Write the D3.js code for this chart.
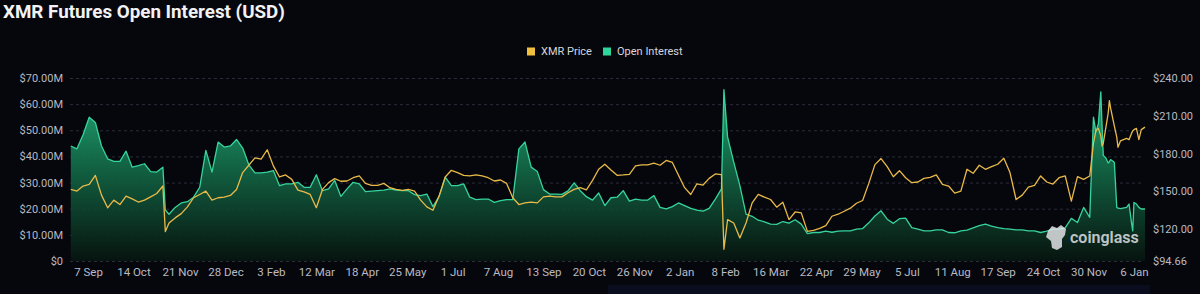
<!DOCTYPE html>
<html>
<head>
<meta charset="utf-8">
<script src="https://cdn.jsdelivr.net/npm/d3@7"></script>
<style>
  html, body { margin: 0; padding: 0; background: #06070d; }
  svg { display: block; }
</style>
</head>
<body>
<svg id="chart" width="1200" height="294"></svg>
<script>
//Chart data (open interest in millions USD, price in USD)
var dates = [
  "2022-08-24","2022-08-29","2022-09-03","2022-09-08","2022-09-13","2022-09-18","2022-09-23","2022-09-28",
  "2022-10-03","2022-10-08","2022-10-13","2022-10-18","2022-10-23","2022-10-28","2022-11-02","2022-11-07",
  "2022-11-09","2022-11-12","2022-11-17","2022-11-22","2022-11-27","2022-12-02","2022-12-07","2022-12-12",
  "2022-12-17","2022-12-22","2022-12-27","2023-01-01","2023-01-06","2023-01-11","2023-01-16","2023-01-21",
  "2023-01-26","2023-01-31","2023-02-05","2023-02-10","2023-02-15","2023-02-20","2023-02-25","2023-03-02",
  "2023-03-07","2023-03-12","2023-03-17","2023-03-22","2023-03-27","2023-04-01","2023-04-06","2023-04-11",
  "2023-04-16","2023-04-21","2023-04-26","2023-05-01","2023-05-06","2023-05-11","2023-05-16","2023-05-21",
  "2023-05-26","2023-05-31","2023-06-05","2023-06-10","2023-06-15","2023-06-20","2023-06-25","2023-06-30",
  "2023-07-05","2023-07-10","2023-07-15","2023-07-20","2023-07-25","2023-07-30","2023-08-04","2023-08-09",
  "2023-08-14","2023-08-19","2023-08-24","2023-08-29","2023-09-03","2023-09-08","2023-09-13","2023-09-18",
  "2023-09-23","2023-09-28","2023-10-03","2023-10-08","2023-10-13","2023-10-18","2023-10-23","2023-10-28",
  "2023-11-02","2023-11-07","2023-11-12","2023-11-17","2023-11-22","2023-11-27","2023-12-02","2023-12-07",
  "2023-12-12","2023-12-17","2023-12-22","2023-12-27","2024-01-01","2024-01-06","2024-01-11","2024-01-16",
  "2024-01-21","2024-01-26","2024-01-31","2024-02-05","2024-02-07","2024-02-10","2024-02-15","2024-02-20",
  "2024-02-25","2024-03-01","2024-03-06","2024-03-11","2024-03-16","2024-03-21","2024-03-26","2024-03-31",
  "2024-04-05","2024-04-10","2024-04-15","2024-04-20","2024-04-25","2024-04-30","2024-05-05","2024-05-10",
  "2024-05-15","2024-05-20","2024-05-25","2024-05-30","2024-06-04","2024-06-09","2024-06-14","2024-06-19",
  "2024-06-24","2024-06-29","2024-07-04","2024-07-09","2024-07-14","2024-07-19","2024-07-24","2024-07-29",
  "2024-08-03","2024-08-08","2024-08-13","2024-08-18","2024-08-23","2024-08-28","2024-09-02","2024-09-07",
  "2024-09-12","2024-09-17","2024-09-22","2024-09-27","2024-10-02","2024-10-07","2024-10-12","2024-10-17",
  "2024-10-22","2024-10-27","2024-11-01","2024-11-06","2024-11-11","2024-11-16","2024-11-21","2024-11-26",
  "2024-12-01","2024-12-04","2024-12-06","2024-12-08","2024-12-10","2024-12-11","2024-12-12","2024-12-14",
  "2024-12-16","2024-12-17","2024-12-18","2024-12-21","2024-12-23","2024-12-24","2024-12-26","2024-12-31",
  "2025-01-02","2025-01-04","2025-01-05","2025-01-06","2025-01-08","2025-01-10","2025-01-12","2025-01-15"
];

var openInterest = [
  44.0,42.9,48.3,55.0,53.0,44.0,39.1,38.1,
  38.1,42.0,35.9,36.5,37.2,34.2,34.0,35.9,
  19.5,17.9,20.5,22.2,22.7,24.4,28.2,42.3,
  34.0,45.5,43.6,44.0,46.5,43.2,36.8,33.7,
  33.7,34.0,34.6,28.8,29.5,29.5,30.1,28.2,
  28.2,33.0,26.9,27.6,30.8,24.7,27.6,30.1,
  29.5,26.5,26.7,26.9,27.1,27.6,27.1,26.9,
  26.9,25.4,25.0,25.6,20.8,24.7,32.1,28.8,
  28.8,29.5,24.4,23.5,23.7,23.7,22.4,23.1,
  23.5,23.5,42.9,45.5,35.9,34.2,27.3,25.6,
  25.6,25.5,26.8,29.9,26.9,24.6,23.3,26.0,
  21.2,24.2,24.4,26.9,22.9,23.7,23.3,23.3,
  25.0,20.5,19.9,20.8,22.2,21.2,20.1,19.5,
  19.1,20.1,23.7,27.6,65.5,47.4,37.8,28.8,
  17.9,17.1,15.6,15.0,14.1,14.0,15.1,14.5,
  15.8,14.1,10.5,10.9,10.9,11.4,11.0,11.4,
  11.5,11.5,12.2,12.4,14.6,17.2,19.2,16.0,
  14.4,16.2,16.4,12.8,12.2,11.5,11.5,11.9,
  11.9,10.9,10.8,11.5,11.8,12.7,13.5,14.1,
  13.3,12.8,12.4,12.2,11.9,11.9,11.5,11.5,
  10.9,11.4,12.2,12.2,12.7,16.3,14.7,20.5,
  16.7,55.0,49.4,52.5,64.7,52.0,40.4,39.5,
  37.5,38.0,38.8,37.8,20.5,20.2,20.0,20.5,
  21.8,14.7,11.5,22.4,21.8,20.5,19.9,19.9
];

var xmrPrice = [
  151.5,150.2,154.2,155.5,162.7,147.0,136.9,143.0,
  139.5,146.2,144.0,141.5,143.0,145.6,148.3,154.2,
  118.0,124.8,128.9,132.3,137.6,144.9,147.5,150.2,
  143.0,144.9,145.4,146.7,151.5,164.9,170.7,176.5,
  175.5,183.0,170.2,161.4,163.0,159.5,151.0,149.6,
  147.5,137.0,151.5,156.9,160.1,158.0,158.2,160.8,
  162.2,156.3,154.7,154.7,156.3,152.9,151.5,150.7,
  151.5,150.2,143.0,137.6,135.0,146.2,161.4,166.7,
  164.9,162.7,162.2,163.0,162.2,160.8,158.2,159.0,
  156.3,144.9,139.5,140.8,141.5,140.8,145.6,146.2,
  145.6,145.6,148.9,151.5,152.9,151.2,158.7,167.5,
  171.5,167.0,162.7,163.0,163.5,170.2,171.0,171.0,
  172.3,170.7,174.5,172.9,162.7,152.9,147.5,156.0,
  155.0,160.3,163.8,163.3,104.0,127.5,124.8,113.0,
  124.8,140.8,147.5,145.4,143.5,137.4,141.3,127.5,
  133.6,132.9,118.2,119.0,120.6,122.7,130.2,131.8,
  134.2,136.6,140.5,142.7,156.3,171.2,176.0,169.6,
  161.6,166.4,160.8,156.9,157.4,160.3,161.1,163.0,
  155.5,154.2,148.6,150.2,167.5,164.3,170.7,167.5,
  169.6,171.5,176.3,164.9,143.5,147.0,153.4,154.7,
  162.2,157.4,155.8,160.8,162.2,142.2,161.6,159.5,
  162.2,188.0,198.2,200.0,194.0,186.0,188.0,200.0,
  212.0,222.0,216.0,202.0,193.0,185.0,190.0,192.0,
  191.0,196.0,198.0,199.0,200.0,191.0,199.0,201.0
];

var xTicks = [
  "2022-09-07","2022-10-14","2022-11-21","2022-12-28","2023-02-03","2023-03-12",
  "2023-04-18","2023-05-25","2023-07-01","2023-08-07","2023-09-13","2023-10-20",
  "2023-11-26","2024-01-02","2024-02-08","2024-03-16","2024-04-22","2024-05-29",
  "2024-07-05","2024-08-11","2024-09-17","2024-10-24","2024-11-30","2025-01-06"
];
var leftTicks = [0, 10, 20, 30, 40, 50, 60, 70];
var rightTicks = [94.66, 120, 150, 180, 210, 240];

var parseDate = d3.timeParse("%Y-%m-%d");

//Build rows from the arrays
var data = dates.map(function(d, i){
    return { date: parseDate(d), oi: openInterest[i], price: xmrPrice[i] };
});

var svg = d3.select("#chart");
//plot box (note: "top" is taken by window, so use other names)
var plotLeft = 70.8, plotRight = 1145, plotTop = 78, plotBottom = 261;

svg.append("rect")
    .attr("width", 1200).attr("height", 294)
    .attr("fill", "#06070d");

//faint band at the bottom
svg.append("rect")
    .attr("x", 608).attr("y", 285)
    .attr("width", 542).attr("height", 9)
    .attr("fill", "#0a0d1e");

//Scales
var xScale = d3.scaleTime()
    .domain([parseDate("2022-08-24"), parseDate("2025-01-15")])
    .range([plotLeft, plotRight]);

var yLeft = d3.scaleLinear().domain([0, 70]).range([plotBottom, plotTop]);
var yRight = d3.scaleLinear().domain([94.66, 240]).range([plotBottom, plotTop]);

//Gradient for the open interest area
var grad = svg.append("defs").append("linearGradient")
    .attr("id", "oiFill")
    .attr("gradientUnits", "userSpaceOnUse")
    .attr("x1", 0).attr("y1", plotTop)
    .attr("x2", 0).attr("y2", plotBottom);
grad.append("stop").attr("offset", "0%").attr("stop-color", "#29bd85").attr("stop-opacity", 0.95);
grad.append("stop").attr("offset", "45%").attr("stop-color", "#14724d").attr("stop-opacity", 0.9);
grad.append("stop").attr("offset", "100%").attr("stop-color", "#07150f").attr("stop-opacity", 0.9);

//Grid lines
var grid = svg.append("g")
    .attr("transform", "translate(70,0)")
    .call(d3.axisLeft(yLeft).tickValues(leftTicks).tickSize(-(1144 - 70)).tickFormat(""));
grid.select(".domain").remove();
grid.selectAll("line")
    .attr("stroke", "#2a2d39")
    .attr("stroke-dasharray", "3,3");

//Area + lines
var area = d3.area()
    .x(function(d){ return xScale(d.date); })
    .y0(yLeft(0))
    .y1(function(d){ return yLeft(d.oi); });

var oiLine = d3.line()
    .x(function(d){ return xScale(d.date); })
    .y(function(d){ return yLeft(d.oi); });

var priceLine = d3.line()
    .x(function(d){ return xScale(d.date); })
    .y(function(d){ return yRight(d.price); });

svg.append("path").datum(data)
    .attr("d", area)
    .attr("fill", "url(#oiFill)");

svg.append("path").datum(data)
    .attr("d", oiLine)
    .attr("fill", "none")
    .attr("stroke", "#36d49c")
    .attr("stroke-width", 1.3)
    .attr("stroke-linejoin", "round");

svg.append("path").datum(data)
    .attr("d", priceLine)
    .attr("fill", "none")
    .attr("stroke", "#e9ba48")
    .attr("stroke-width", 1.3)
    .attr("stroke-linejoin", "round");

//Left axis
var yAxisLeft = svg.append("g")
    .attr("transform", "translate(70,0)")
    .call(d3.axisLeft(yLeft).tickValues(leftTicks).tickSize(0).tickPadding(7)
        .tickFormat(function(d){ return d == 0 ? "$0" : "$" + d.toFixed(2) + "M"; }));

//Right axis
var yAxisRight = svg.append("g")
    .attr("transform", "translate(1145,0)")
    .call(d3.axisRight(yRight).tickValues(rightTicks).tickSize(0).tickPadding(8)
        .tickFormat(function(d){ return "$" + d.toFixed(2); }));

//Bottom axis
var xAxis = svg.append("g")
    .attr("transform", "translate(0," + plotBottom + ")")
    .call(d3.axisBottom(xScale).tickValues(xTicks.map(parseDate)).tickSize(0).tickPadding(7)
        .tickFormat(d3.timeFormat("%-d %b")));

[yAxisLeft, yAxisRight, xAxis].forEach(function(g){
    g.select(".domain").remove();
    g.selectAll("text")
        .attr("fill", "#b9bac2")
        .style("font-family", "Roboto, sans-serif")
        .style("font-size", "11px");
});
xAxis.selectAll("text").style("font-size", "11.5px");

//Title
svg.append("text")
    .attr("x", 3).attr("y", 17.5)
    .attr("fill", "#f2f2f4")
    .style("font-family", "Roboto, sans-serif")
    .style("font-weight", "700")
    .style("font-size", "18.8px")
    .text("XMR Futures Open Interest (USD)");

//Legend
var legend = [
    { name: "XMR Price", color: "#f0bf3e", x: 527 },
    { name: "Open Interest", color: "#2fd69b", x: 603 }
];
legend.forEach(function(l){
    svg.append("rect")
        .attr("x", l.x).attr("y", 47.5)
        .attr("width", 8).attr("height", 8)
        .attr("fill", l.color);
    svg.append("text")
        .attr("x", l.x + 14).attr("y", 51.5)
        .attr("dominant-baseline", "central")
        .attr("fill", "#d6d6da")
        .style("font-family", "Roboto, sans-serif")
        .style("font-size", "11px")
        .text(l.name);
});

//Watermark
var wm = svg.append("g").attr("opacity", 0.82);
wm.append("path")
    .attr("d", "M1048,231 L1052,226 L1057,228 L1061,225 L1066,229 L1065,235 L1062,239 L1062,247 L1057,250 L1052,248 L1051,241 L1046,237 Z")
    .attr("fill", "#e8e8ec");
wm.append("text")
    .attr("x", 1070).attr("y", 243)
    .attr("fill", "#e8e8ec")
    .style("font-family", "Roboto, sans-serif")
    .style("font-weight", "600")
    .style("font-size", "16px")
    .text("coinglass");
</script>
</body>
</html>
